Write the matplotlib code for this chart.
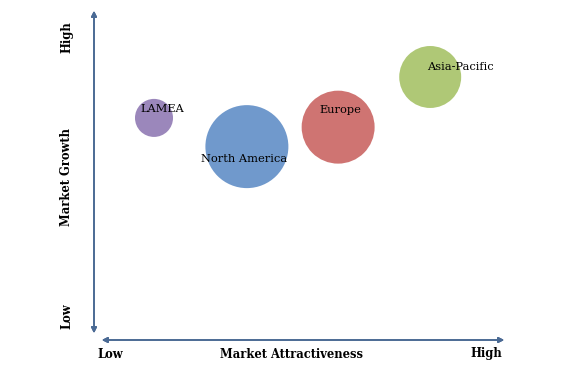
import matplotlib.pyplot as plt

regions = ["LAMEA", "North America", "Europe", "Asia-Pacific"]
attractiveness = [1.46, 3.72, 5.94, 8.18]
growth = [6.73, 5.86, 6.45, 7.97]
market_size = [750, 3570, 2760, 1990]
colors = ["#9b87bb", "#7099cc", "#cf7472", "#afc876"]
# label offsets from bubble centre, in pixels
label_dx = [8, -3, 2, 30]
label_dy = [9, -12, 17, 10]

W, H = 562, 377
fig = plt.figure(figsize=(W / 100, H / 100), dpi=100)
ax = fig.add_axes([94 / W, 1 - 340 / H, 411 / W, 330 / H])
ax.set_xlim(0, 10)
ax.set_ylim(0, 10)
ax.axis("off")

ax.scatter(attractiveness, growth, s=market_size, c=colors, edgecolors="none", zorder=2)
for name, x, y, dx, dy in zip(regions, attractiveness, growth, label_dx, label_dy):
    ax.annotate(name, (x, y), xytext=(dx * 0.72, dy * 0.72), textcoords="offset points",
                ha="center", va="center", fontsize=8.2, family="DejaVu Serif", zorder=3)

# axis arrows
arrow = dict(arrowstyle="<|-|>", color="#4a6a94", lw=1.2, mutation_scale=8)
fig.add_artist(plt.annotate("", xy=(94 / W, 1 - 8 / H), xytext=(94 / W, 1 - 336 / H),
                            xycoords="figure fraction", arrowprops=arrow))
fig.add_artist(plt.annotate("", xy=(507 / W, 1 - 340 / H), xytext=(99 / W, 1 - 340 / H),
                            xycoords="figure fraction", arrowprops=arrow))

lab = dict(fontsize=8.3, fontweight="bold", family="DejaVu Serif", ha="center", va="center")
fig.text(110 / W, 1 - 354 / H, "Low", **lab)
fig.text(292 / W, 1 - 354 / H, "Market Attractiveness", **lab)
fig.text(486 / W, 1 - 354 / H, "High", **lab)
fig.text(67 / W, 1 - 37 / H, "High", rotation=90, **lab)
fig.text(67 / W, 1 - 177 / H, "Market Growth", rotation=90, **lab)
fig.text(67 / W, 1 - 316 / H, "Low", rotation=90, **lab)

fig.savefig("out.png", dpi=100)
